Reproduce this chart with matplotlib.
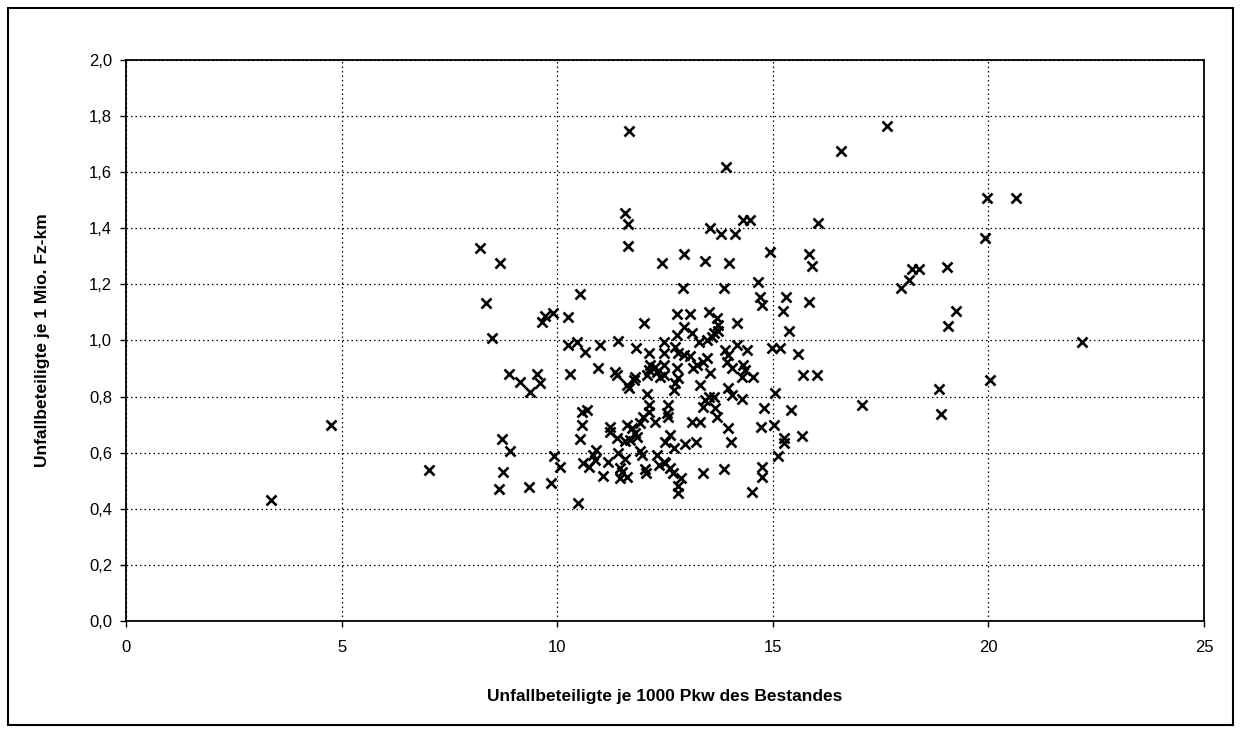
import matplotlib.pyplot as plt
import numpy as np
from matplotlib.patches import Rectangle
from matplotlib.ticker import FuncFormatter

plt.rcParams['font.family'] = ['Liberation Sans', 'DejaVu Sans']

# Unfallbeteiligte je 1000 Pkw des Bestandes
x_vals = [
    3.36, 4.76, 7.02, 8.21, 8.35, 8.49, 8.68, 8.71, 8.75, 8.66,
    8.91, 8.89, 9.14, 9.37, 9.53, 9.59, 9.35, 9.64, 9.71, 9.90,
    9.93, 10.07, 9.85, 10.24, 10.26, 10.30, 10.46, 10.53, 10.65, 10.49,
    10.57, 10.69, 10.57, 10.53, 10.61, 10.73, 10.90, 10.84, 10.88, 10.94,
    11.00, 11.06, 11.19, 11.23, 11.23, 11.34, 11.38, 11.38, 11.42, 11.42,
    11.58, 11.46, 11.46, 11.61, 11.50, 11.58, 11.64, 11.65, 11.67, 11.61,
    11.66, 11.77, 11.81, 11.61, 11.73, 11.81, 11.93, 11.58, 11.69, 11.85,
    11.93, 11.96, 11.83, 12.02, 12.08, 12.12, 12.12, 12.00, 12.27, 12.04,
    12.06, 12.14, 12.12, 12.16, 12.27, 12.31, 12.39, 12.08, 12.31, 12.35,
    12.50, 12.43, 12.47, 12.47, 12.47, 12.47, 12.47, 12.58, 12.54, 12.58,
    12.62, 12.51, 12.70, 12.62, 12.68, 12.81, 12.74, 12.70, 12.74, 12.81,
    12.93, 13.09, 12.78, 12.78, 13.07, 12.78, 12.93, 13.12, 12.87, 12.80,
    12.80, 12.92, 12.93, 12.97, 13.22, 13.12, 13.32, 13.16, 13.24, 13.39,
    13.47, 13.55, 13.28, 13.47, 13.59, 13.63, 13.31, 13.38, 13.43, 13.51,
    13.70, 13.72, 13.74, 13.43, 13.51, 13.63, 13.39, 13.67, 13.70, 13.55,
    13.80, 14.13, 14.32, 14.48, 13.86, 13.86, 13.92, 13.90, 13.97, 13.94,
    14.05, 14.17, 13.96, 14.04, 13.97, 14.05, 14.28, 13.99, 14.18, 14.40,
    14.32, 14.36, 14.28, 14.55, 14.52, 14.65, 14.71, 14.75, 14.72, 15.03,
    14.75, 14.75, 14.80, 14.94, 14.97, 15.17, 15.06, 15.12, 15.23, 15.25,
    15.25, 15.30, 15.38, 15.42, 15.58, 15.68, 15.71, 16.03, 15.83, 15.85,
    15.91, 16.04, 16.58, 17.07, 17.65, 17.97, 18.15, 18.23, 18.38, 18.86,
    18.90, 19.04, 19.06, 19.25, 19.91, 19.97, 20.03, 20.63, 22.17,
]

# Unfallbeteiligte je 1 Mio. Fz-km
y_vals = [
    0.430, 0.700, 0.540, 1.330, 1.135, 1.010, 1.275, 0.648, 0.530, 0.470,
    0.607, 0.881, 0.851, 0.818, 0.880, 0.850, 0.479, 1.067, 1.087, 1.097,
    0.588, 0.548, 0.493, 1.085, 0.984, 0.880, 0.996, 1.166, 0.960, 0.420,
    0.746, 0.752, 0.699, 0.648, 0.562, 0.548, 0.610, 0.592, 0.574, 0.901,
    0.984, 0.517, 0.568, 0.693, 0.675, 0.889, 0.877, 0.651, 0.999, 0.600,
    0.576, 0.544, 0.509, 0.514, 0.532, 1.456, 1.415, 1.338, 1.747, 0.841,
    0.830, 0.859, 0.871, 0.699, 0.687, 0.669, 0.705, 0.643, 0.645, 0.657,
    0.607, 0.592, 0.972, 1.064, 0.809, 0.770, 0.746, 0.726, 0.711, 0.541,
    0.527, 0.954, 0.895, 0.913, 0.907, 0.889, 0.871, 0.877, 0.592, 0.556,
    0.562, 1.277, 0.996, 0.954, 0.913, 0.877, 0.568, 0.770, 0.740, 0.728,
    0.663, 0.639, 0.618, 0.544, 0.529, 0.865, 0.847, 0.824, 0.978, 0.957,
    0.948, 0.943, 0.901, 1.093, 1.093, 1.020, 1.049, 1.026, 0.509, 0.481,
    0.457, 1.186, 1.308, 0.631, 0.637, 0.711, 0.711, 0.901, 0.913, 0.924,
    0.936, 0.883, 0.996, 1.002, 1.014, 1.026, 0.841, 0.529, 1.285, 1.103,
    1.079, 1.055, 1.035, 0.788, 0.800, 0.800, 0.764, 0.758, 0.728, 1.400,
    1.379, 1.379, 1.428, 1.428, 1.186, 0.541, 1.617, 0.966, 0.948, 0.924,
    0.901, 0.984, 0.687, 0.639, 0.830, 0.806, 0.791, 1.275, 1.064, 0.966,
    0.913, 0.895, 0.871, 0.871, 0.461, 1.207, 1.156, 1.127, 0.691, 0.699,
    0.550, 0.514, 0.758, 1.316, 0.974, 0.974, 0.812, 0.588, 1.105, 0.653,
    0.636, 1.154, 1.035, 0.752, 0.952, 0.660, 0.877, 0.877, 1.136, 1.308,
    1.267, 1.418, 1.677, 0.770, 1.766, 1.186, 1.216, 1.254, 1.254, 0.827,
    0.738, 1.263, 1.052, 1.105, 1.367, 1.507, 0.859, 1.507, 0.994,
]

x_ticks = [0, 5, 10, 15, 20, 25]
y_ticks = [0.0, 0.2, 0.4, 0.6, 0.8, 1.0, 1.2, 1.4, 1.6, 1.8, 2.0]

fig = plt.figure(figsize=(12.41, 7.33), dpi=100)
ax = fig.add_axes([0.1015, 0.1528, 0.8687, 0.7654])

ax.plot(x_vals, y_vals, linestyle='none', marker='x', color='black',
        markersize=7, markeredgewidth=1.9)

ax.set_xlim(0, 25)
ax.set_ylim(0, 2.0)
ax.set_xticks(x_ticks)
ax.set_yticks(y_ticks)
ax.yaxis.set_major_formatter(FuncFormatter(lambda v, p: f"{v:.1f}".replace('.', ',')))
ax.tick_params(labelsize=12, direction='out', length=4, width=1, colors='black')
ax.tick_params(axis='x', pad=10)
ax.tick_params(axis='y', pad=6)

ax.grid(True, color='black', linestyle=(0, (1.2, 2.4)), linewidth=0.9)
ax.set_axisbelow(True)
for spine in ax.spines.values():
    spine.set_color('black')
    spine.set_linewidth(1.3)

ax.set_xlabel('Unfallbeteiligte je 1000 Pkw des Bestandes', fontsize=12.5,
              fontweight='bold', labelpad=24)
ax.set_ylabel('Unfallbeteiligte je 1 Mio. Fz-km', fontsize=12.5,
              fontweight='bold', labelpad=28)

# outer frame around the whole chart
fig.patches.append(Rectangle((8 / 1241, 8 / 733), 1225 / 1241, 717 / 733,
                             transform=fig.transFigure, fill=False,
                             edgecolor='black', linewidth=1.5))

fig.savefig('out.png', dpi=100, facecolor='white')
